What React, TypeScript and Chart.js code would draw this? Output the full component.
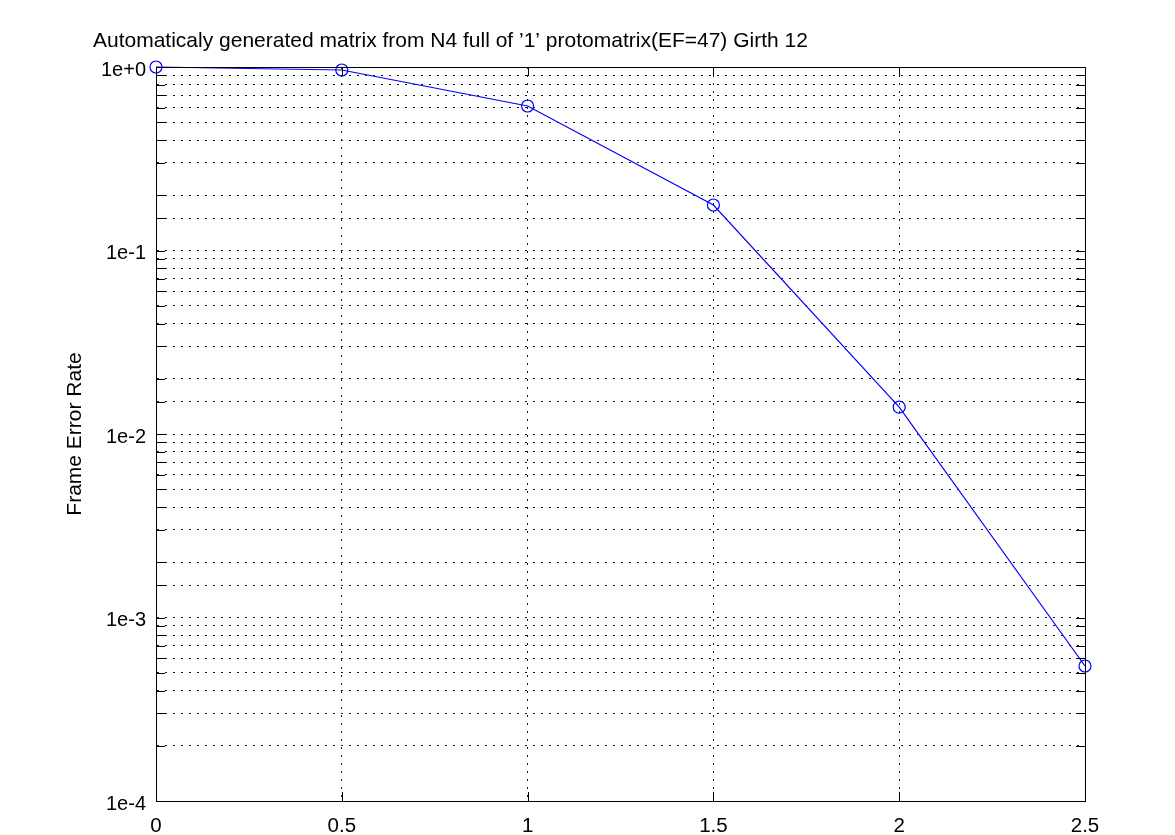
import React, { useEffect, useRef } from "react";
import { Chart, registerables } from "chart.js";

Chart.register(...registerables);

const snrValues = [0, 0.5, 1, 1.5, 2, 2.5];
const ferValues = [1.0, 0.963, 0.613, 0.177, 0.014, 5.44e-4];
const xTickStep = 0.5;
const yMin = 1e-4;
const yMax = 1;
const titleText = "Automaticaly generated matrix from N4 full of ’1’ protomatrix(EF=47) Girth 12";
const yAxisLabel = "Frame Error Rate";

const FONT = '"Liberation Sans", Arial, sans-serif';

const frameAndTitle = {
  id: "frameAndTitle",
  afterDraw(chart: any) {
    const { ctx, chartArea } = chart;
    const { left, right, top, bottom } = chartArea;
    ctx.save();
    ctx.strokeStyle = "#000";
    ctx.lineWidth = 1;
    ctx.setLineDash([]);
    const ys = chart.scales.y;
    ys.ticks.forEach((t: any) => {
      const p = Math.round(ys.getPixelForValue(t.value)) + 0.5;
      ctx.beginPath();
      ctx.moveTo(left, p);
      ctx.lineTo(left + 9, p);
      ctx.moveTo(right, p);
      ctx.lineTo(right - 9, p);
      ctx.stroke();
    });
    const xs = chart.scales.x;
    xs.ticks.forEach((t: any) => {
      const p = Math.round(xs.getPixelForValue(t.value)) + 0.5;
      ctx.beginPath();
      ctx.moveTo(p, bottom);
      ctx.lineTo(p, bottom - 9);
      ctx.moveTo(p, top);
      ctx.lineTo(p, top + 9);
      ctx.stroke();
    });
    ctx.strokeRect(Math.round(left) + 0.5, Math.round(top) + 0.5, Math.round(right - left), Math.round(bottom - top));
    ctx.fillStyle = "#000";
    ctx.font = "21px " + FONT;
    ctx.textBaseline = "alphabetic";
    ctx.textAlign = "left";
    ctx.fillText(titleText, 93, 47);
    ctx.restore();
  },
};

export default function App() {
  const ref = useRef<HTMLCanvasElement | null>(null);
  useEffect(() => {
    if (!ref.current) return;
    const chart = new Chart(ref.current, {
      type: "line",
      data: {
        datasets: [
          {
            data: snrValues.map((x, i) => ({ x, y: ferValues[i] })),
            borderColor: "#0000ff",
            borderWidth: 1.2,
            backgroundColor: "rgba(0,0,0,0)",
            pointRadius: 6,
            pointBorderColor: "#0000ff",
            pointBackgroundColor: "rgba(0,0,0,0)",
            pointBorderWidth: 1.2,
            tension: 0,
            clip: false as any,
          },
        ],
      },
      options: {
        responsive: false,
        animation: false,
        layout: { padding: { top: 67, right: 90, bottom: 0, left: 0 } },
        plugins: { legend: { display: false }, tooltip: { enabled: false }, title: { display: false } },
        scales: {
          x: {
            type: "linear",
            min: 0,
            max: 2.5,
            afterFit(scale: any) {
              scale.height = 34;
            },
            ticks: {
              stepSize: xTickStep,
              color: "#000",
              font: { family: FONT, size: 20.5 },
              padding: 13,
              maxRotation: 0,
              autoSkip: false,
              callback: (v: any) => String(Number(v)),
            },
            grid: {
              drawTicks: false,
              color: "rgba(0,0,0,0.9)",
              lineWidth: 1,
            },
            border: { display: true, color: "#000", width: 1, dash: [2, 6] },
          },
          y: {
            type: "logarithmic",
            min: yMin,
            max: yMax,
            afterFit(scale: any) {
              scale.width = 156;
            },
            title: {
              display: true,
              text: yAxisLabel,
              color: "#000",
              font: { family: FONT, size: 21 },
              padding: { top: 63, bottom: 0 },
            },
            ticks: {
              color: "#000",
              font: { family: FONT, size: 20 },
              padding: 10,
              autoSkip: false,
              labelOffset: 3,
              callback: (v: any) => {
                const e = Math.log10(Number(v));
                if (Math.abs(e - Math.round(e)) > 1e-9) return "";
                const r = Math.round(e);
                return "1e" + (r >= 0 ? "+" : "") + r;
              },
            },
            grid: {
              drawTicks: false,
              color: "rgba(0,0,0,0.9)",
              lineWidth: 1,
            },
            border: { display: true, color: "#000", width: 1, dash: [2, 6] },
          },
        },
      },
      plugins: [frameAndTitle],
    } as any);
    return () => chart.destroy();
  }, []);
  return (
    <div style={{ position: "absolute", left: 0, top: 0, width: 1175, height: 835, background: "#fff" }}>
      <canvas ref={ref} width={1175} height={835} style={{ display: "block" }} />
    </div>
  );
}
